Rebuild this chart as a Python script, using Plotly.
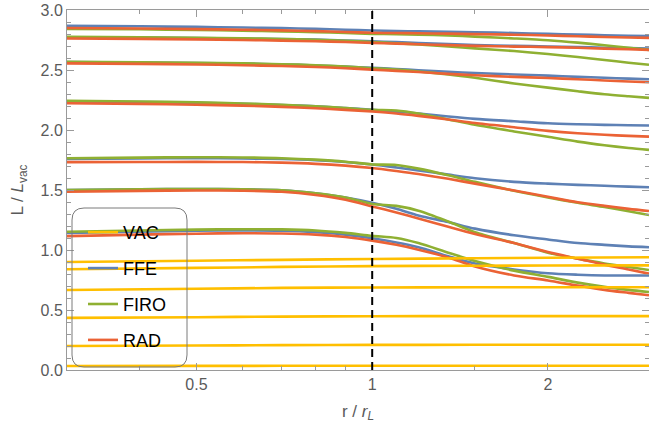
import plotly.graph_objects as go

# radius samples (r / r_L)
r = [0.3, 0.4, 0.5, 0.6, 0.7, 0.8, 0.9, 1.0, 1.1, 1.2, 1.35, 1.5, 1.75, 2.0, 2.25, 2.5, 2.75, 2.98]

# FFE curves (one per inclination, lowest to highest)
ffe_1 = [1.143, 1.153, 1.16, 1.163, 1.16, 1.148, 1.128, 1.098, 1.063, 1.023, 0.948, 0.888, 0.838, 0.806, 0.794, 0.788, 0.788, 0.788]
ffe_2 = [1.50, 1.506, 1.508, 1.506, 1.498, 1.473, 1.438, 1.394, 1.343, 1.288, 1.233, 1.178, 1.123, 1.088, 1.058, 1.043, 1.03, 1.023]
ffe_3 = [1.758, 1.763, 1.766, 1.763, 1.758, 1.748, 1.733, 1.713, 1.688, 1.663, 1.628, 1.598, 1.568, 1.553, 1.543, 1.535, 1.528, 1.523]
ffe_4 = [2.238, 2.233, 2.226, 2.218, 2.208, 2.198, 2.183, 2.168, 2.153, 2.138, 2.113, 2.093, 2.073, 2.056, 2.048, 2.043, 2.04, 2.038]
ffe_5 = [2.566, 2.563, 2.558, 2.553, 2.546, 2.538, 2.528, 2.518, 2.508, 2.498, 2.485, 2.475, 2.463, 2.453, 2.443, 2.435, 2.428, 2.423]
ffe_6 = [2.773, 2.77, 2.766, 2.762, 2.758, 2.753, 2.746, 2.739, 2.732, 2.725, 2.716, 2.708, 2.701, 2.696, 2.691, 2.686, 2.682, 2.678]
ffe_7 = [2.868, 2.864, 2.859, 2.854, 2.849, 2.843, 2.836, 2.829, 2.825, 2.822, 2.818, 2.814, 2.808, 2.801, 2.795, 2.79, 2.786, 2.783]

# FIRO curves
firo_1 = [1.152, 1.163, 1.17, 1.173, 1.172, 1.163, 1.143, 1.118, 1.10, 1.058, 0.978, 0.908, 0.828, 0.776, 0.728, 0.693, 0.668, 0.65]
firo_2 = [1.50, 1.506, 1.508, 1.506, 1.498, 1.473, 1.438, 1.383, 1.368, 1.328, 1.238, 1.148, 1.058, 0.978, 0.928, 0.888, 0.858, 0.833]
firo_3 = [1.765, 1.77, 1.773, 1.771, 1.765, 1.753, 1.736, 1.713, 1.708, 1.678, 1.623, 1.568, 1.493, 1.438, 1.393, 1.358, 1.323, 1.291]
firo_4 = [2.243, 2.238, 2.23, 2.221, 2.21, 2.198, 2.183, 2.168, 2.163, 2.138, 2.088, 2.043, 1.988, 1.943, 1.903, 1.873, 1.85, 1.834]
firo_5 = [2.568, 2.565, 2.56, 2.555, 2.548, 2.54, 2.528, 2.515, 2.503, 2.488, 2.463, 2.435, 2.388, 2.353, 2.323, 2.298, 2.281, 2.268]
firo_6 = [2.776, 2.773, 2.769, 2.764, 2.758, 2.751, 2.743, 2.733, 2.723, 2.713, 2.696, 2.68, 2.658, 2.633, 2.608, 2.583, 2.561, 2.544]
firo_7 = [2.843, 2.839, 2.834, 2.828, 2.822, 2.816, 2.808, 2.801, 2.798, 2.794, 2.788, 2.778, 2.763, 2.748, 2.728, 2.706, 2.685, 2.668]

# RAD curves
rad_1 = [1.116, 1.128, 1.136, 1.14, 1.138, 1.128, 1.108, 1.078, 1.043, 1.003, 0.938, 0.863, 0.788, 0.746, 0.703, 0.668, 0.643, 0.623]
rad_2 = [1.486, 1.493, 1.496, 1.494, 1.485, 1.458, 1.418, 1.363, 1.313, 1.263, 1.193, 1.133, 1.058, 0.983, 0.928, 0.878, 0.838, 0.803]
rad_3 = [1.732, 1.733, 1.734, 1.733, 1.728, 1.718, 1.703, 1.683, 1.658, 1.633, 1.593, 1.553, 1.496, 1.443, 1.398, 1.368, 1.343, 1.325]
rad_4 = [2.223, 2.218, 2.211, 2.203, 2.193, 2.181, 2.168, 2.154, 2.138, 2.118, 2.088, 2.058, 2.023, 1.993, 1.973, 1.96, 1.951, 1.945]
rad_5 = [2.555, 2.551, 2.546, 2.54, 2.533, 2.525, 2.515, 2.503, 2.493, 2.483, 2.468, 2.456, 2.443, 2.433, 2.423, 2.413, 2.404, 2.398]
rad_6 = [2.762, 2.759, 2.755, 2.75, 2.745, 2.739, 2.733, 2.726, 2.72, 2.715, 2.707, 2.701, 2.695, 2.691, 2.685, 2.678, 2.673, 2.668]
rad_7 = [2.85, 2.846, 2.841, 2.836, 2.83, 2.824, 2.817, 2.81, 2.808, 2.806, 2.803, 2.799, 2.794, 2.788, 2.781, 2.775, 2.771, 2.768]

# VAC curves
r_vac = [0.3, 0.5, 0.7, 1.0, 1.5, 2.0, 2.98]
vac_1 = [0.90, 0.911, 0.918, 0.925, 0.931, 0.935, 0.939]
vac_2 = [0.84, 0.851, 0.859, 0.866, 0.869, 0.871, 0.872]
vac_3 = [0.667, 0.677, 0.684, 0.688, 0.689, 0.689, 0.689]
vac_4 = [0.434, 0.44, 0.445, 0.448, 0.449, 0.449, 0.449]
vac_5 = [0.20, 0.204, 0.207, 0.209, 0.21, 0.211, 0.211]
vac_6 = [0.033, 0.034, 0.035, 0.035, 0.036, 0.036, 0.036]

r_light_cylinder = 1.0

y_ticks = [0.0, 0.5, 1.0, 1.5, 2.0, 2.5, 3.0]
x_ticks = [0.5, 1, 2]
x_tick_labels = ["0.5", "1", "2"]
x_minor_ticks = [0.4, 0.6, 0.7, 0.8, 0.9, 1.5]

C_VAC = "#FFBF00"
C_FFE = "#5E81B5"
C_FIRO = "#8FB032"
C_RAD = "#EB6235"


def join(xs, groups):
    X, Y = [], []
    for g in groups:
        X += list(xs) + [None]
        Y += list(g) + [None]
    return X, Y


fig = go.Figure()

series = [
    ("FFE", C_FFE, r, [ffe_1, ffe_2, ffe_3, ffe_4, ffe_5, ffe_6, ffe_7], 2),
    ("FIRO", C_FIRO, r, [firo_1, firo_2, firo_3, firo_4, firo_5, firo_6, firo_7], 3),
    ("RAD", C_RAD, r, [rad_1, rad_2, rad_3, rad_4, rad_5, rad_6, rad_7], 4),
    ("VAC", C_VAC, r_vac, [vac_1, vac_2, vac_3, vac_4, vac_5, vac_6], 1),
]
for name, col, xs, groups, rank in series:
    X, Y = join(xs, groups)
    fig.add_trace(go.Scatter(
        x=X, y=Y, mode="lines", name=name, legendgroup=name, legendrank=rank,
        line=dict(color=col, width=2.6, shape="spline", smoothing=0.8),
        connectgaps=False,
    ))

fig.add_vline(x=r_light_cylinder, line=dict(color="black", width=2, dash="8px,5px"))

PW, PH = 582, 360  # plot area size in px (plot at x 67, y 10)
x0p, x1p = (72 - 67) / PW, (187 - 67) / PW
y1p, y0p = 1 - (208 - 10) / PH, 1 - (367 - 10) / PH
rx, ry = 12 / PW, 12 / PH
path = (f"M {x0p+rx},{y1p} L {x1p-rx},{y1p} Q {x1p},{y1p} {x1p},{y1p-ry} "
        f"L {x1p},{y0p+ry} Q {x1p},{y0p} {x1p-rx},{y0p} L {x0p+rx},{y0p} "
        f"Q {x0p},{y0p} {x0p},{y0p+ry} L {x0p},{y1p-ry} Q {x0p},{y1p} {x0p+rx},{y1p} Z")
fig.add_shape(type="path", path=path, xref="paper", yref="paper",
              line=dict(color="#7a7a7a", width=1), fillcolor="rgba(0,0,0,0)", layer="above")

axis_col = "#9a9a9a"
font_col = "#5a5a5a"
FONT = "Liberation Sans, Arial, sans-serif"

fig.update_layout(
    width=649, height=439,
    margin=dict(l=67, r=0, t=10, b=69, autoexpand=False),
    paper_bgcolor="white", plot_bgcolor="white",
    font=dict(family=FONT, size=16, color=font_col),
    showlegend=True,
    legend=dict(
        x=(83 - 67) / PW, y=1 - (214 - 10) / PH, xanchor="left", yanchor="top",
        bgcolor="rgba(0,0,0,0)", borderwidth=0,
        font=dict(family=FONT, size=18, color="black"),
        tracegroupgap=9.5, traceorder="grouped",
    ),
    xaxis=dict(
        type="log", range=[-0.5228787, 0.4742163], automargin=False,
        tickvals=x_ticks, ticktext=x_tick_labels,
        ticks="inside", ticklen=7, tickwidth=1, tickcolor=axis_col,
        minor=dict(tickvals=x_minor_ticks, ticks="inside", ticklen=4, tickcolor=axis_col),
        showline=True, linecolor=axis_col, linewidth=1, mirror="ticks",
        showgrid=False, zeroline=False, ticklabeloverflow="allow",
        tickfont=dict(size=16, color=font_col),
        title=dict(text="r / <i>r</i><sub><i>L</i></sub>", font=dict(size=17, color=font_col), standoff=12),
    ),
    yaxis=dict(
        range=[0, 3], tickvals=y_ticks, tickformat=".1f", automargin=False,
        ticks="inside", ticklen=7, tickwidth=1, tickcolor=axis_col,
        minor=dict(dtick=0.1, ticks="inside", ticklen=4, tickcolor=axis_col),
        showline=True, linecolor=axis_col, linewidth=1, mirror="ticks",
        showgrid=False, zeroline=False, ticklabeloverflow="allow",
        tickfont=dict(size=16, color=font_col),
        title=dict(text="L / <i>L</i><sub>vac</sub>", font=dict(size=17, color=font_col), standoff=12),
    ),
)

fig.write_html(
    "out.html",
    config={"displayModeBar": False},
    post_script="document.body.style.margin='0';document.documentElement.style.overflow='hidden';",
)
